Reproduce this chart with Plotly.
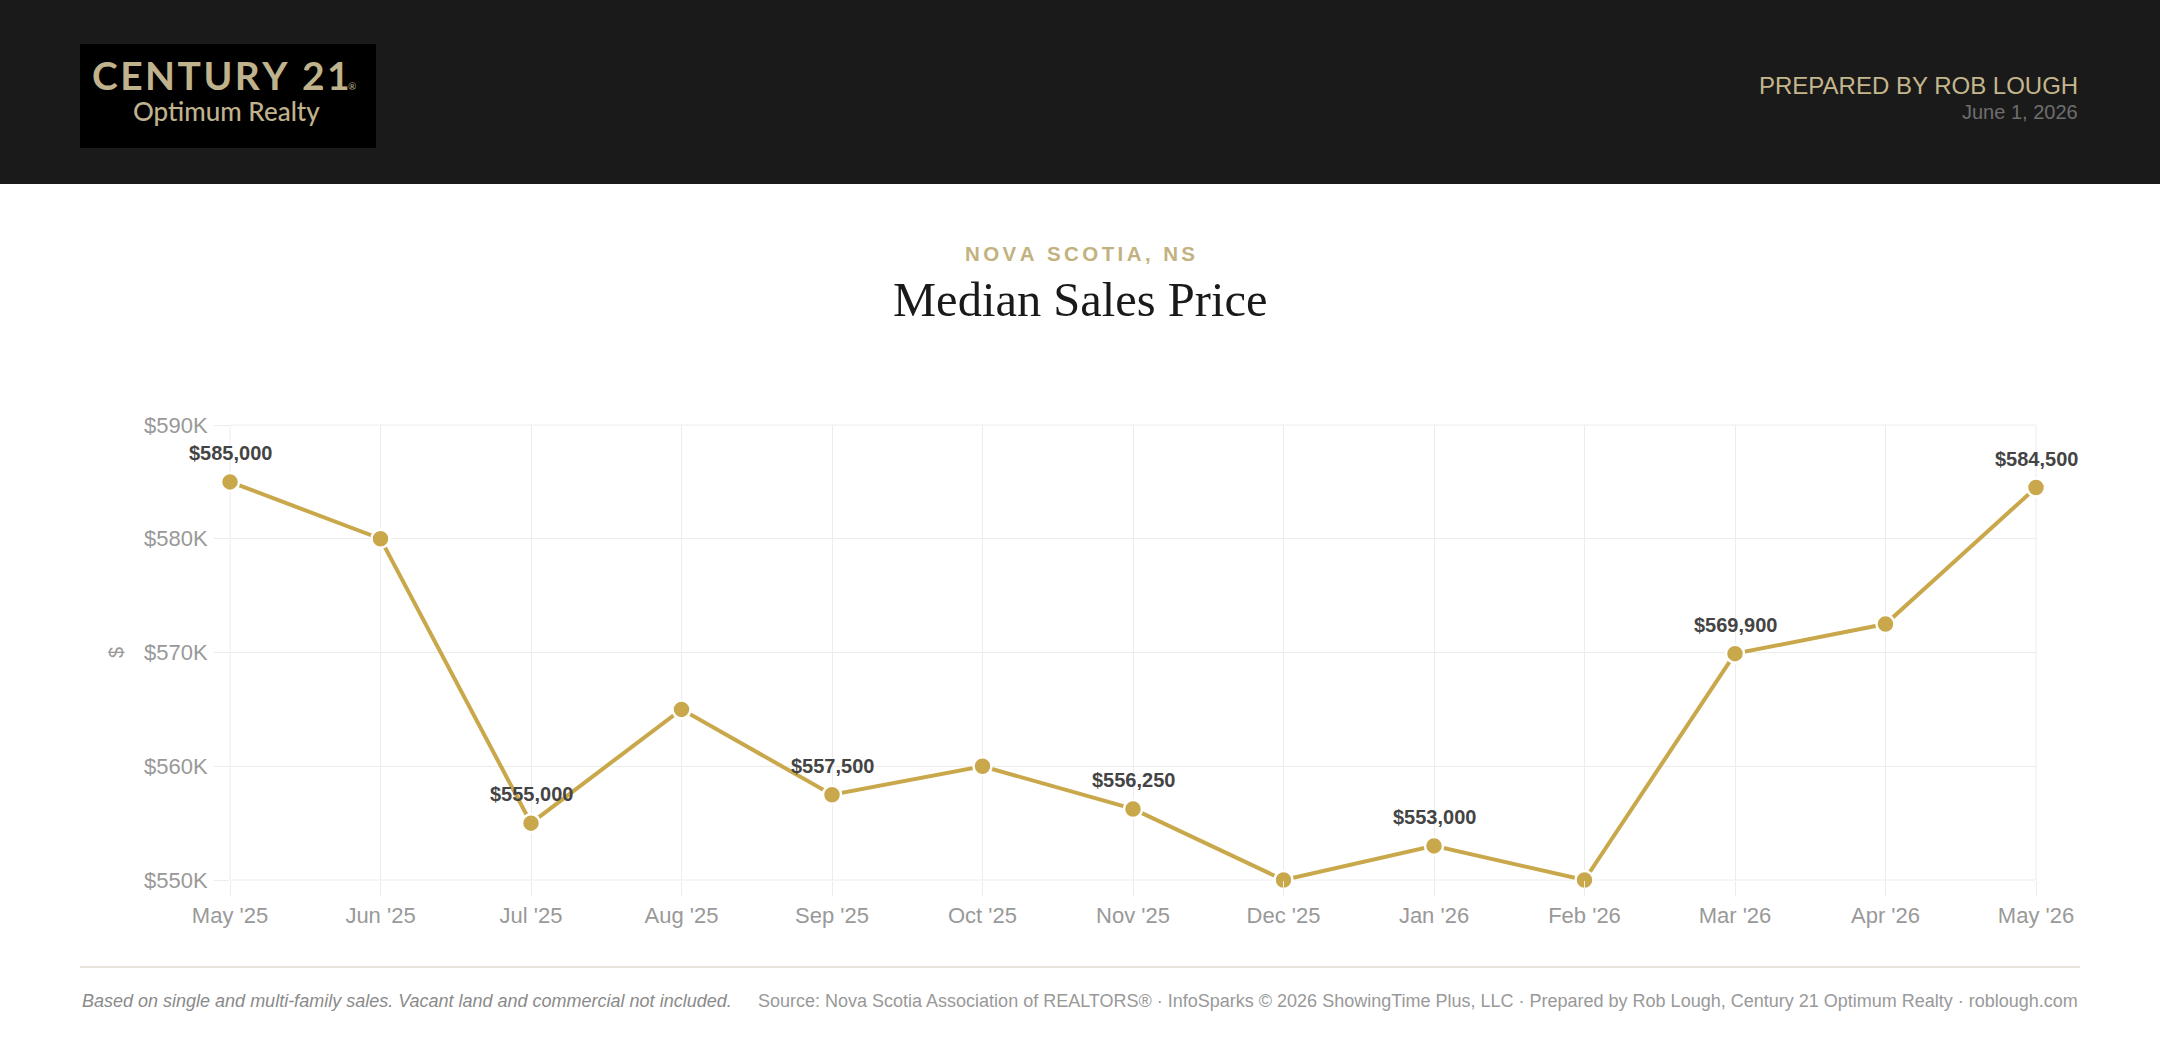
import plotly.graph_objects as go

# ---- data ----
months = ["May '25", "Jun '25", "Jul '25", "Aug '25", "Sep '25", "Oct '25", "Nov '25",
          "Dec '25", "Jan '26", "Feb '26", "Mar '26", "Apr '26", "May '26"]
median_price = [585000, 580000, 555000, 565000, 557500, 560000, 556250,
                550000, 553000, 550000, 569900, 572500, 584500]
labeled_idx = [0, 2, 4, 6, 8, 10, 12]
y_tickvals = [550000, 560000, 570000, 580000, 590000]
y_ticktext = ["$550K", "$560K", "$570K", "$580K", "$590K"]

W, H = 2160, 1048
L, R, T, B = 230, 2036, 425, 880  # plot area in pixels


def px(x):
    return (x - L) / (R - L)


def py(y):
    return (B - y) / (B - T)


GOLD = "#c9a84c"
GRID = "#ececec"
SANS = "Liberation Sans, Arial, sans-serif"

fig = go.Figure()
fig.add_trace(go.Scatter(
    x=months, y=median_price, mode="lines+markers",
    line=dict(color=GOLD, width=4),
    marker=dict(size=18, color=GOLD, line=dict(color="white", width=2.5)),
    cliponaxis=False, hoverinfo="x+y", showlegend=False,
))

ann = []
for i in labeled_idx:
    ann.append(dict(x=months[i], y=median_price[i], xref="x", yref="y",
                    text=f"${median_price[i]:,}", showarrow=False, yshift=29,
                    font=dict(family=SANS, size=20, color="#444444", weight="bold")))

shapes = [
    dict(type="rect", xref="paper", yref="paper", x0=px(0), x1=px(W), y0=py(184), y1=py(0),
         fillcolor="#1a1a1a", line=dict(width=0), layer="below"),
    dict(type="rect", xref="paper", yref="paper", x0=px(80), x1=px(376), y0=py(148), y1=py(44),
         fillcolor="#000000", line=dict(width=0), layer="below"),
    # edge grid lines (plotly hides gridlines lying on the plot-area boundary)
    dict(type="rect", xref="paper", yref="paper", x0=0, x1=1, y0=0, y1=1,
         line=dict(color=GRID, width=1), fillcolor="rgba(0,0,0,0)", layer="below"),
    dict(type="line", xref="paper", yref="paper", x0=px(80), x1=px(2080), y0=py(967), y1=py(967),
         line=dict(color="#e8e4dc", width=2)),
]

hs = "\u200a"
ann += [
    dict(xref="paper", yref="paper", x=px(221), y=py(75), showarrow=False,
         text=hs.join("CENTURY 21"), xanchor="center", yanchor="middle",
         font=dict(family="Lato, sans-serif", size=39, color="#bfb28c", weight="bold")),
    dict(xref="paper", yref="paper", x=px(352), y=py(86), showarrow=False,
         text="®", xanchor="center", yanchor="middle",
         font=dict(family="Lato, sans-serif", size=10, color="#bfb28c")),
    dict(xref="paper", yref="paper", x=px(226), y=py(111), showarrow=False,
         text="Optimum Realty", xanchor="center", yanchor="middle",
         font=dict(family="Lato, sans-serif", size=26, color="#bfb28c", weight=500)),
    dict(xref="paper", yref="paper", x=px(2080), y=py(85), showarrow=False,
         text="PREPARED BY ROB LOUGH", xanchor="right", yanchor="middle",
         font=dict(family=SANS, size=24, color="#c4b68c")),
    dict(xref="paper", yref="paper", x=px(2080), y=py(112), showarrow=False,
         text="June 1, 2026", xanchor="right", yanchor="middle",
         font=dict(family=SANS, size=20, color="#6e6e6e")),
    dict(xref="paper", yref="paper", x=px(1080), y=py(253), showarrow=False,
         text="\u2006".join("NOVA SCOTIA, NS"), xanchor="center", yanchor="middle",
         font=dict(family=SANS, size=20.5, color="#c2b280", weight="bold")),
    dict(xref="paper", yref="paper", x=px(1080), y=py(299), showarrow=False,
         text="Median Sales Price", xanchor="center", yanchor="middle",
         font=dict(family="Liberation Serif, Georgia, serif", size=48.5, color="#1a1a1a")),
    dict(xref="paper", yref="paper", x=px(116), y=py(653), showarrow=False,
         text="$", textangle=-90, xanchor="center", yanchor="middle",
         font=dict(family=SANS, size=20, color="#999999")),
    dict(xref="paper", yref="paper", x=px(80), y=py(1001), showarrow=False,
         text="<i>Based on single and multi-family sales. Vacant land and commercial not included.</i>",
         xanchor="left", yanchor="middle",
         font=dict(family=SANS, size=18, color="#8a8a8a")),
    dict(xref="paper", yref="paper", x=px(2080), y=py(1001), showarrow=False,
         text="Source: Nova Scotia Association of REALTORS® · InfoSparks © 2026 ShowingTime Plus, LLC · "
              "Prepared by Rob Lough, Century 21 Optimum Realty · roblough.com",
         xanchor="right", yanchor="middle",
         font=dict(family=SANS, size=18, color="#999999")),
]

fig.update_layout(
    width=W, height=H, autosize=False,
    margin=dict(l=L, r=W - R, t=T, b=H - B, pad=0),
    paper_bgcolor="white", plot_bgcolor="white",
    shapes=shapes, annotations=ann,
    xaxis=dict(type="category", range=[0, len(months) - 1], showgrid=True,
               gridcolor=GRID, gridwidth=1, ticks="outside", ticklen=15, tickcolor=GRID,
               tickwidth=1, showline=False, zeroline=False, ticklabelstandoff=1,
               tickfont=dict(family=SANS, size=22, color="#999999")),
    yaxis=dict(range=[550000, 590000], tickvals=y_tickvals, ticktext=y_ticktext,
               showgrid=True, gridcolor=GRID, gridwidth=1, ticks="outside", ticklen=15,
               tickcolor=GRID, tickwidth=1, showline=False, zeroline=False,
               ticklabelstandoff=2,
               tickfont=dict(family=SANS, size=22, color="#999999")),
)

fig.write_html("out.html")
